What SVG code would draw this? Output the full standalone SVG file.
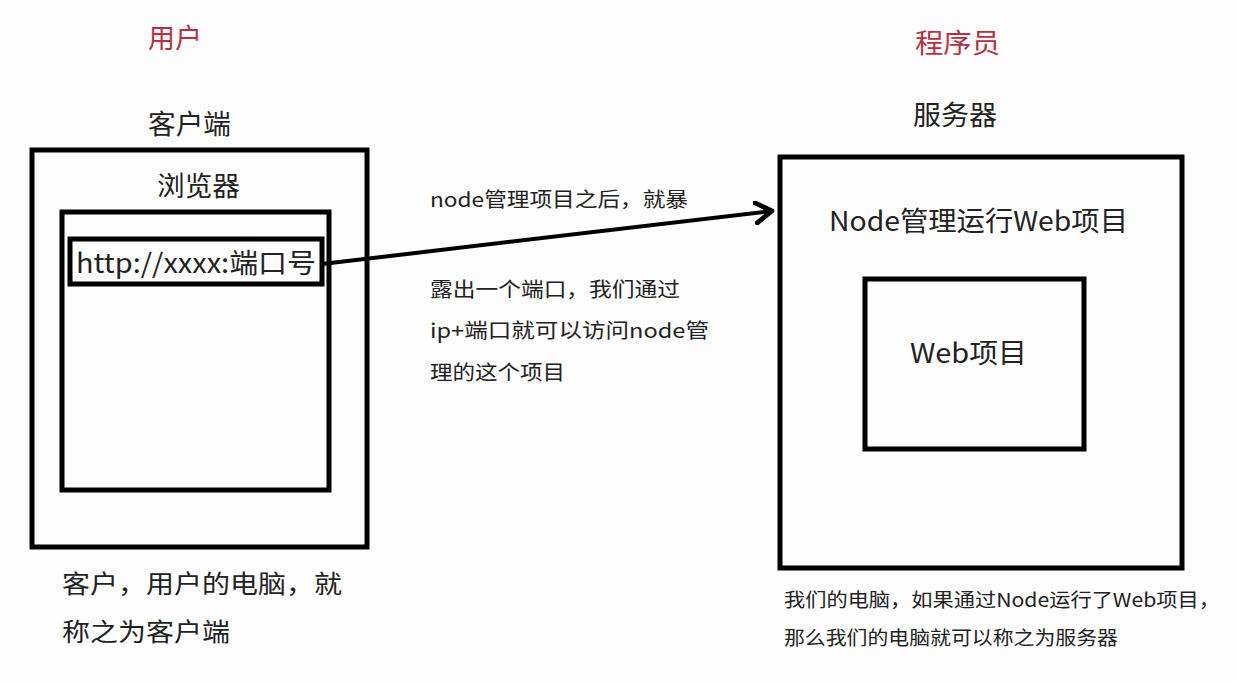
<svg xmlns="http://www.w3.org/2000/svg" width="1236" height="683" viewBox="0 0 1236 683">
<defs>
<style>
text{font-family:"Noto Sans CJK SC","Noto Sans",sans-serif;fill:#222}
.red{fill:#b8303f}
.box{fill:none;stroke:#000;stroke-width:5}
.lbl{font-size:27px}
.mid{font-size:20px}
.sm{font-size:19px}
.bl{font-size:25px}
</style>
<marker id="ah" viewBox="0 0 12 12" refX="9" refY="6" markerWidth="6" markerHeight="6" orient="auto" markerUnits="strokeWidth">
<path d="M1,1 L9,6 L1,11" fill="none" stroke="#000" stroke-width="2.4" stroke-linecap="round" stroke-linejoin="round"/>
</marker>
</defs>
<rect width="1236" height="683" fill="#fdfdfd"/>
<text class="red lbl" x="148" y="48" textLength="54" lengthAdjust="spacingAndGlyphs">用户</text>
<text class="red lbl" x="915" y="53" textLength="85" lengthAdjust="spacingAndGlyphs">程序员</text>
<g id="client">
<text class="lbl" x="148" y="134" textLength="83" lengthAdjust="spacingAndGlyphs">客户端</text>
<rect class="box" x="32" y="150" width="335" height="397"/>
</g>
<g id="browser">
<text class="lbl" x="157" y="196" textLength="83" lengthAdjust="spacingAndGlyphs">浏览器</text>
<rect class="box" x="62" y="212" width="267" height="278"/>
</g>
<g id="url">
<rect class="box" x="70" y="239" width="252" height="45"/>
<text class="lbl" x="76" y="273" textLength="240" lengthAdjust="spacingAndGlyphs">http://xxxx:端口号</text>
</g>
<g id="server">
<text class="lbl" x="913" y="125" textLength="84" lengthAdjust="spacingAndGlyphs">服务器</text>
<rect class="box" x="780" y="157" width="402" height="411"/>
<text class="lbl" x="829" y="231" textLength="299" lengthAdjust="spacingAndGlyphs">Node管理运行Web项目</text>
</g>
<g id="webproject">
<rect class="box" x="865" y="279" width="219" height="170"/>
<text class="lbl" x="910" y="363" textLength="117" lengthAdjust="spacingAndGlyphs">Web项目</text>
</g>
<g id="connectors">
<line x1="322" y1="264" x2="772" y2="211" stroke="#000" stroke-width="4" marker-end="url(#ah)"/>
</g>
<g id="notes">
<text class="mid" x="430" y="207" textLength="258" lengthAdjust="spacingAndGlyphs">node管理项目之后，就暴</text>
<text class="mid" x="430" y="297" textLength="250" lengthAdjust="spacingAndGlyphs">露出一个端口，我们通过</text>
<text class="mid" x="430" y="338" textLength="279" lengthAdjust="spacingAndGlyphs">ip+端口就可以访问node管</text>
<text class="mid" x="430" y="380" textLength="135" lengthAdjust="spacingAndGlyphs">理的这个项目</text>
<text class="bl" x="62" y="593" textLength="280" lengthAdjust="spacingAndGlyphs">客户，用户的电脑，就</text>
<text class="bl" x="62" y="641" textLength="168" lengthAdjust="spacingAndGlyphs">称之为客户端</text>
<text class="sm" x="784" y="607" textLength="436" lengthAdjust="spacingAndGlyphs">我们的电脑，如果通过Node运行了Web项目，</text>
<text class="sm" x="784" y="645" textLength="334" lengthAdjust="spacingAndGlyphs">那么我们的电脑就可以称之为服务器</text>
</g>
</svg>
